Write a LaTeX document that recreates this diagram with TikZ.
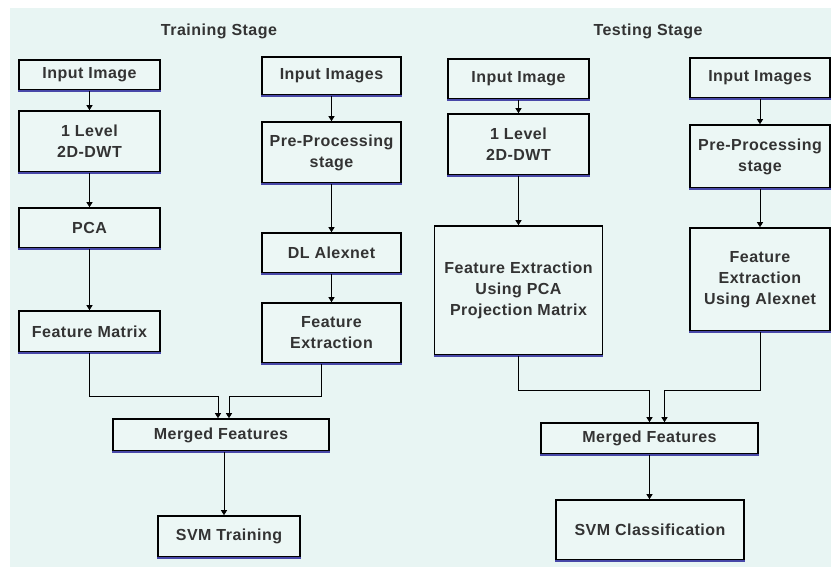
\documentclass[tikz,border=0pt]{standalone}
\usepackage{fontspec}
\setmainfont{Liberation Sans}
\newfontfamily\boxfont[LetterSpace=3]{Liberation Sans Bold}
\usetikzlibrary{arrows.meta, calc}
\definecolor{bgmint}{HTML}{E8F5F3}
\definecolor{boxmint}{HTML}{ECF7F5}
\definecolor{txtgray}{HTML}{333333}
\definecolor{edgeblue}{HTML}{4848A8}

\begin{document}
\begin{tikzpicture}[x=1pt, y=-1pt,
	every node/.style={color=txtgray, font=\boxfont\fontsize{16}{21}\selectfont, align=center},
	box/.style={draw=black, fill=boxmint, line width=1.6pt, inner sep=0pt},
	arr/.style={draw=black, line width=0.8pt, -{Triangle[length=5pt, width=6pt]}}]

	\useasboundingbox (0,0) rectangle (831,570);
	\fill[bgmint] (10,8) rectangle (831,567);

	% 标题
	\node (ttrain) at (219,31) {Training Stage};
	\node (ttest) at (648,31) {Testing Stage};

	% 训练阶段 左列
	\node[box, minimum width=141, minimum height=30] (in1) at (89.5,75) {Input Image};
	\node[box, minimum width=141, minimum height=61] (dwt1) at (89.5,141.5) {1 Level\\2D-DWT};
	\node[box, minimum width=141, minimum height=40] (pca) at (89.5,228) {PCA};
	\node[box, minimum width=141, minimum height=41] (fmat) at (89.5,331.5) {Feature Matrix};

	% 训练阶段 右列
	\node[box, minimum width=139, minimum height=38] (in2) at (331.5,76) {Input Images};
	\node[box, minimum width=139, minimum height=61] (pre1) at (331.5,152.5) {Pre-Processing\\stage};
	\node[box, minimum width=139, minimum height=40] (alex) at (331.5,253) {DL Alexnet};
	\node[box, minimum width=139, minimum height=60] (fext) at (331.5,333) {Feature\\Extraction};

	\node[box, minimum width=216, minimum height=32] (merge1) at (221,435) {Merged Features};
	\node[box, minimum width=142, minimum height=41] (svm1) at (229,536.5) {SVM Training};

	% 测试阶段
	\node[box, minimum width=141, minimum height=40] (in3) at (518.5,79) {Input Image};
	\node[box, minimum width=141, minimum height=61] (dwt2) at (518.5,144.5) {1 Level\\2D-DWT};
	\node[box, minimum width=168, minimum height=129] (fpca) at (518.5,290.5) {Feature Extraction\\Using PCA\\Projection Matrix};

	\node[box, minimum width=140, minimum height=40] (in4) at (760,78) {Input Images};
	\node[box, minimum width=140, minimum height=63] (pre2) at (760,156.5) {Pre-Processing\\stage};
	\node[box, minimum width=140, minimum height=103] (falex) at (760,279.5) {Feature\\Extraction\\Using Alexnet};

	\node[box, minimum width=217, minimum height=31] (merge2) at (649.5,438.5) {Merged Features};
	\node[box, minimum width=188, minimum height=60] (svm2) at (650,530) {SVM Classification};

	% 方框下边的蓝色
	\foreach \n in {in1,dwt1,pca,fmat,in2,pre1,alex,fext,merge1,svm1,in3,dwt2,fpca,in4,pre2,falex,merge2,svm2} {
			\draw[edgeblue, line width=1.6pt] (\n.south west) -- (\n.south east);
		}

	% 箭头
	\draw[arr] (in1) -- (dwt1);
	\draw[arr] (dwt1) -- (pca);
	\draw[arr] (pca) -- (fmat);
	\draw[arr] (in2) -- (pre1);
	\draw[arr] (pre1) -- (alex);
	\draw[arr] (alex) -- (fext);
	\draw[arr] (in3) -- (dwt2);
	\draw[arr] (dwt2) -- (fpca);
	\draw[arr] (in4) -- (pre2);
	\draw[arr] (pre2) -- (falex);

	% 合并
	\coordinate (j1) at (0,396);
	\coordinate (j2) at (0,390);
	\draw[arr] (fmat.south) |- (j1 -| {$(merge1.north)+(-3,0)$}) -- ($(merge1.north)+(-3,0)$);
	\draw[arr] ([xshift=-10pt]fext.south) |- (j1 -| {$(merge1.north)+(8,0)$}) -- ($(merge1.north)+(8,0)$);
	\draw[arr] ($(merge1.south)+(3,0)$) -- ({$(merge1.south)+(3,0)$} |- svm1.north);
	\draw[arr] (fpca.south) |- (j2 -| merge2.north) -- (merge2.north);
	\draw[arr] (falex.south) |- (j2 -| {$(merge2.north)+(15,0)$}) -- ($(merge2.north)+(15,0)$);
	\draw[arr] (merge2.south) -- (merge2.south |- svm2.north);

\end{tikzpicture}
\end{document}
